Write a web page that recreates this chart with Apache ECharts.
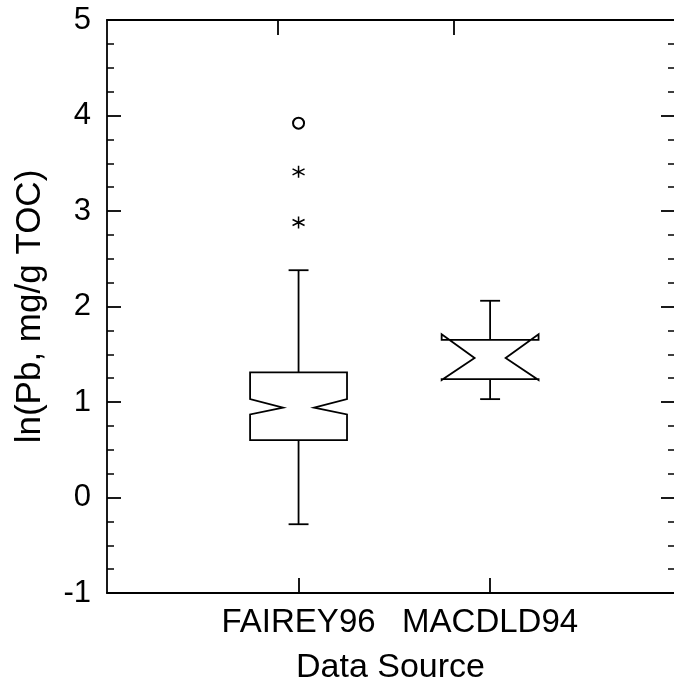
<!DOCTYPE html>
<html>
<head>
<meta charset="utf-8">
<script src="https://cdn.jsdelivr.net/npm/echarts@6/dist/echarts.min.js"></script>
<style>html,body{margin:0;padding:0;background:#fff}#c{width:674px;height:686px}</style>
</head>
<body>
<div id="c"></div>
<script>
const categories = ['FAIREY96', 'MACDLD94'];
const whiskerLow = [-0.28, 1.03];
const q1 = [0.60, 1.24];
const median = [0.94, 1.46];
const q3 = [1.31, 1.65];
const whiskerHigh = [2.38, 2.06];
const notchLow = [0.87, 1.23];
const notchHigh = [1.03, 1.71];
const farOutliers = [[1, 3.92]];           // drawn as open circles
const nearOutliers = [[1, 3.41], [1, 2.88]]; // drawn as asterisks
const catPositions = [1, 2];
const topTickPositions = [0.89, 1.81];

const boxData = categories.map((c, i) => [catPositions[i], whiskerLow[i], q1[i], median[i], q3[i], whiskerHigh[i], notchLow[i], notchHigh[i]]);

const FONT = 'Liberation Sans, Arial, Helvetica, sans-serif';
const chart = echarts.init(document.getElementById('c'), null, {renderer: 'canvas'});

function renderBox(params, api) {
  const x = api.value(0), wl = api.value(1), lo = api.value(2), md = api.value(3),
        hi = api.value(4), wh = api.value(5), nl = api.value(6), nh = api.value(7);
  const hw = 0.253, inset = 0.172, cap = 0.052;
  const P = (a, b) => api.coord([a, b]);
  const pts = [
    P(x - hw, hi), P(x - hw, nh), P(x - hw + inset, md), P(x - hw, nl), P(x - hw, lo),
    P(x + hw, lo), P(x + hw, nl), P(x + hw - inset, md), P(x + hw, nh), P(x + hw, hi)
  ];
  const st = {stroke: '#000', lineWidth: 1.8, fill: null};
  const line = (a, b) => ({type: 'line', shape: {x1: a[0], y1: a[1], x2: b[0], y2: b[1]}, style: st});
  return {
    type: 'group',
    children: [
      {type: 'polygon', shape: {points: pts}, style: st},
      line(P(x, hi), P(x, wh)),
      line(P(x - cap, wh), P(x + cap, wh)),
      line(P(x, lo), P(x, wl)),
      line(P(x - cap, wl), P(x + cap, wl))
    ]
  };
}

const axisLineStyle = {color: '#000', width: 1.8};

chart.setOption({
  animation: false,
  backgroundColor: '#fff',
  grid: {left: 107, right: 0, top: 20, bottom: 93, containLabel: false, outerBoundsMode: 'none'},
  xAxis: [
    {
      type: 'value', position: 'bottom', min: 0, max: 2.96,
      name: 'Data Source', nameLocation: 'middle', nameGap: 58,
      nameTextStyle: {fontFamily: FONT, fontSize: 34, color: '#000'},
      axisLine: {show: true, onZero: false, lineStyle: axisLineStyle},
      axisTick: {show: true, inside: true, length: 15, customValues: catPositions, lineStyle: axisLineStyle},
      axisLabel: {show: true, customValues: catPositions, margin: 13,
        formatter: v => categories[catPositions.indexOf(v)] || '',
        fontFamily: FONT, fontSize: 33, color: '#000'},
      splitLine: {show: false}
    },
    {
      type: 'value', position: 'top', min: 0, max: 2.96,
      axisLine: {show: true, onZero: false, lineStyle: axisLineStyle},
      axisTick: {show: true, inside: true, length: 15, customValues: topTickPositions, lineStyle: axisLineStyle},
      axisLabel: {show: false},
      splitLine: {show: false}
    }
  ],
  yAxis: [
    {
      type: 'value', position: 'left', min: -1, max: 5, interval: 1,
      name: 'ln(Pb, mg/g TOC)', nameLocation: 'middle', nameGap: 59,
      nameTextStyle: {fontFamily: FONT, fontSize: 35, color: '#000'},
      axisLine: {show: true, onZero: false, lineStyle: axisLineStyle},
      axisTick: {show: true, inside: true, length: 14, lineStyle: axisLineStyle},
      minorTick: {show: true, splitNumber: 4, length: 7, lineStyle: {color: '#000', width: 1.5}},
      axisLabel: {fontFamily: FONT, fontSize: 31, color: '#000', margin: 16},
      splitLine: {show: false}
    },
    {
      type: 'value', position: 'right', min: -1, max: 5, interval: 1,
      axisLine: {show: false, onZero: false},
      axisTick: {show: true, inside: true, length: 13, lineStyle: axisLineStyle},
      minorTick: {show: true, splitNumber: 4, length: 6, lineStyle: {color: '#000', width: 1.5}},
      axisLabel: {show: false},
      splitLine: {show: false}
    }
  ],
  series: [
    {
      type: 'custom', xAxisIndex: 0, yAxisIndex: 0,
      renderItem: renderBox, data: boxData, clip: false
    },
    {
      type: 'scatter', xAxisIndex: 0, yAxisIndex: 0, data: farOutliers,
      symbol: 'emptyCircle', symbolSize: 11,
      itemStyle: {color: '#000', borderColor: '#000', borderWidth: 1.5, opacity: 1}
    },
    {
      type: 'scatter', xAxisIndex: 0, yAxisIndex: 0, data: nearOutliers,
      symbol: 'path://M5,0L5,10M0.67,2.5L9.33,7.5M0.67,7.5L9.33,2.5', symbolSize: [12, 12],
      itemStyle: {color: 'none', borderColor: '#000', borderWidth: 1.5, opacity: 1}
    }
  ]
});
</script>
</body>
</html>
